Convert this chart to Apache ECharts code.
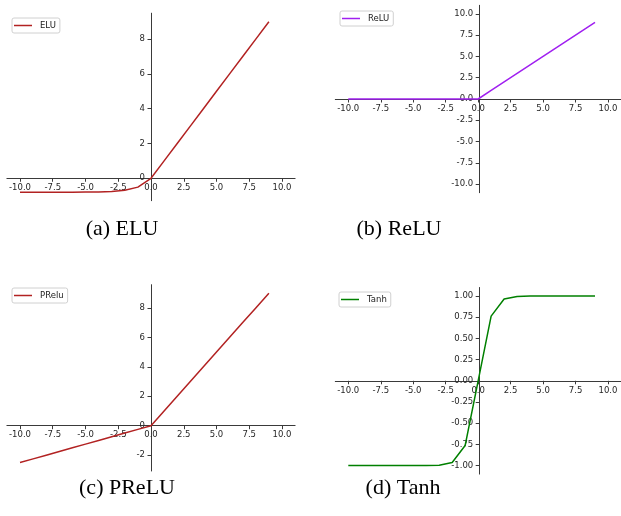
<!DOCTYPE html>
<html><head><meta charset="utf-8">
<script src="https://cdn.jsdelivr.net/npm/echarts@6/dist/echarts.min.js"></script>
<style>html,body{margin:0;padding:0;background:#fff}#c{width:621px;height:516px}</style>
</head><body><div id="c"></div>
<script>
// Data
const xs = [-10,-9,-8,-7,-6,-5,-4,-3,-2,-1,0,1,2,3,4,5,6,7,8,9];
const elu = [-0.8,-0.8,-0.8,-0.8,-0.8,-0.79,-0.79,-0.76,-0.69,-0.51,0,1,2,3,4,5,6,7,8,9];
const relu = [0,0,0,0,0,0,0,0,0,0,0,1,2,3,4,5,6,7,8,9];
const prelu = [-2.5,-2.25,-2,-1.75,-1.5,-1.25,-1,-0.75,-0.5,-0.25,0,1,2,3,4,5,6,7,8,9];
const tanh = [-1,-1,-1,-1,-1,-1,-0.999,-0.995,-0.964,-0.762,0,0.762,0.964,0.995,0.999,1,1,1,1,1];
const xTicks = [-10,-7.5,-5,-2.5,0,2.5,5,7.5,10];
const yTicksA = [0,2,4,6,8];
const yTicksB = [-10,-7.5,-5,-2.5,0,2.5,5,7.5,10];
const yTicksC = [-2,0,2,4,6,8];
const yTicksD = [-1,-0.75,-0.5,-0.25,0,0.25,0.5,0.75,1];
const names = ['ELU','ReLU','PRelu','Tanh'];
const captions = ['(a) ELU','(b) ReLU','(c) PReLU','(d) Tanh'];

const pair = ys => xs.map((x,i)=>[x,ys[i]]);
const axColor = '#3a3a3a';
const font = {fontFamily:'DejaVu Sans', fontSize:8.5, color:'#262626'};

const grids = [
  {left:6.9, top:13.2, width:288.2, height:187.5},
  {left:335.3, top:5.3, width:287.8, height:187.4},
  {left:6.9, top:284.7, width:288.2, height:186.3},
  {left:335.3, top:287.5, width:287.8, height:186.6}
];
const XMIN = -11, XMAX = 11;
const yRanges = [[-1.29,9.49],[-11,11],[-3.075,9.575],[-1.1,1.1]];

function xAxis(g){
  const [lo,hi] = yRanges[g];
  const off = -((0-lo)/(hi-lo))*grids[g].height;
  return {type:'value', gridIndex:g, min:XMIN, max:XMAX, position:'bottom', offset:off,
    axisLine:{onZero:false, lineStyle:{color:axColor,width:1}},
    axisTick:{show:true, length:3.5, customValues:xTicks, lineStyle:{color:axColor}},
    axisLabel:Object.assign({margin:5, customValues:xTicks, formatter:v=>v.toFixed(1)}, font),
    splitLine:{show:false}};
}
function yAxis(g,ticks,fmt){
  const [lo,hi] = yRanges[g];
  const off = -((0-XMIN)/(XMAX-XMIN))*grids[g].width;
  return {type:'value', gridIndex:g, min:lo, max:hi, position:'left', offset:off,
    axisLine:{show:true, onZero:false, lineStyle:{color:axColor,width:1}},
    axisTick:{show:true, length:3.5, customValues:ticks, lineStyle:{color:axColor}},
    axisLabel:Object.assign({margin:6, customValues:ticks, formatter:fmt}, font),
    splitLine:{show:false}};
}
function legend(name,left,top){
  return {data:[name], left:left, top:top, orient:'vertical',
    icon:'rect', itemWidth:18, itemHeight:1.5,
    padding:[3,4,3,2], borderColor:'#d0d0d0', borderWidth:1, borderRadius:2,
    backgroundColor:'rgba(255,255,255,0.8)',
    textStyle:{fontFamily:'DejaVu Sans', fontSize:8.5, color:'#222', padding:[0,0,0,3]}};
}
function series(name,g,ys,color){
  return {name:name, type:'line', xAxisIndex:g, yAxisIndex:g, data:pair(ys),
    showSymbol:false, symbol:'none', lineStyle:{color:color,width:1.5}, itemStyle:{color:color},
    animation:false};
}
function caption(text,x,y){
  return {type:'text', x:x, y:y, style:{text:text, font:'22px "Liberation Serif"', fill:'#000', textAlign:'center', textVerticalAlign:'middle'}};
}

const option = {
  animation:false,
  grid:grids,
  xAxis:[xAxis(0),xAxis(1),xAxis(2),xAxis(3)],
  yAxis:[
    yAxis(0,yTicksA,v=>String(v)),
    yAxis(1,yTicksB,v=>v.toFixed(1)),
    yAxis(2,yTicksC,v=>String(v)),
    yAxis(3,yTicksD,v=>v.toFixed(2))
  ],
  legend:[legend(names[0],12,18),legend(names[1],340,11),legend(names[2],12,288),legend(names[3],339,292)],
  series:[
    series(names[0],0,elu,'#b22222'),
    series(names[1],1,relu,'#a020f0'),
    series(names[2],2,prelu,'#b22222'),
    series(names[3],3,tanh,'#008000')
  ],
  graphic:[
    caption(captions[0],122,229),
    caption(captions[1],399,229),
    caption(captions[2],127,488),
    caption(captions[3],403,488)
  ]
};
const chart = echarts.init(document.getElementById('c'), null, {renderer:'canvas'});
chart.setOption(option);
</script></body></html>
